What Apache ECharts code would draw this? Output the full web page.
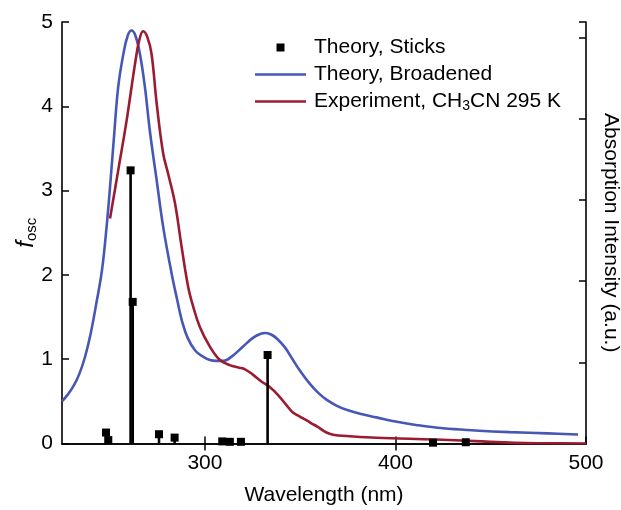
<!DOCTYPE html>
<html>
<head>
<meta charset="utf-8">
<script src="https://cdn.jsdelivr.net/npm/echarts@6/dist/echarts.min.js"></script>
<style>
html,body{margin:0;padding:0;background:#fff;}
#chart{width:621px;height:510px;}
</style>
</head>
<body>
<div id="chart"></div>
<script>
// Theory, Broadened (wavelength nm, f_osc)
const broadWl = [225,228,231,234,237,240,243,246,248.4,250.2,252.3,254.5,257.2,259.5,261.5,263.5,265.9,268.5,271.1,274.7,278.1,282.5,285.3,288,291,295,299,302.6,306,309.6,314,320,325,329,332,335,338,342,346,350,355,359.5,363.8,369,374.3,382,390,400,410.7,425,441.8,460,480,495.8];
const broadVal = [0.50,0.58,0.68,0.82,1.02,1.30,1.66,2.06,2.57,3.04,3.64,4.23,4.62,4.84,4.90,4.84,4.62,4.23,3.71,3.12,2.57,2.02,1.72,1.45,1.25,1.10,1.03,0.99,0.98,0.98,1.03,1.15,1.25,1.30,1.31,1.29,1.24,1.14,1.00,0.86,0.71,0.60,0.52,0.45,0.40,0.35,0.31,0.26,0.22,0.18,0.155,0.135,0.12,0.107];
// Experiment, CH3CN 295 K
const expWl = [250.2,254.5,258.9,263.3,265.5,267.6,269.8,272,274.7,278.1,280.7,284.3,287.8,291.2,293.9,297.4,302.6,307.9,313,318,321,325,330,334,338.4,343,346,349.8,353,355.9,359,363.8,368,374.3,390,421,441.8,462.6,480,500];
const expVal = [2.67,3.24,3.83,4.50,4.78,4.89,4.82,4.62,4.03,3.44,3.20,2.85,2.33,1.86,1.62,1.38,1.15,0.99,0.93,0.90,0.88,0.82,0.73,0.67,0.575,0.45,0.37,0.32,0.28,0.24,0.20,0.13,0.10,0.089,0.069,0.047,0.028,0.008,0.003,0.0];
// Theory, Sticks
const stickWl = [248.1,249.3,261.0,262.1,275.9,284.1,309.1,313.1,318.9,332.9,419.7,436.9];
const stickVal = [0.13,0.04,3.24,1.68,0.11,0.07,0.025,0.02,0.02,1.05,0.01,0.015];
// Axis ticks
const xTicks = [300,400,500];
const topTicks = [300,400];

const zip = (a,b) => a.map((v,i)=>[v,b[i]]);
const BLUE = '#4757b5';
const RED = '#9b1b30';
const FONT = 'Liberation Sans, Arial, Helvetica, sans-serif';
const LINE_ICON = 'path://M0,0L51,0L51,2.6L0,2.6Z';

const chart = echarts.init(document.getElementById('chart'), null, {renderer:'canvas'});
const axisLineStyle = {color:'#000', width:1.6};

chart.setOption({
  animation:false,
  backgroundColor:'#fff',
  textStyle:{fontFamily:FONT},
  grid:{left:62, right:35, top:22, bottom:66.5, containLabel:false, outerBoundsMode:'none'},
  legend:{
    orient:'vertical', left:250, top:32, itemWidth:51, itemHeight:8, itemGap:6,
    symbolKeepAspect:true,
    textStyle:{fontSize:21, color:'#000', fontFamily:FONT, padding:[0,0,0,3],
      rich:{n:{fontSize:21, color:'#000', fontFamily:FONT, lineHeight:24},
            s:{fontSize:14, color:'#000', fontFamily:FONT, lineHeight:14, verticalAlign:'bottom'}}},
    formatter: name => name === 'Experiment, CH3CN 295 K' ? '{n|Experiment, CH}{s|3}{n|CN 295 K}' : name,
    data:[
      {name:'Theory, Sticks', icon:'path://M0,0L1,0L1,1L0,1Z', itemStyle:{color:'#000'}},
      {name:'Theory, Broadened', icon:LINE_ICON, itemStyle:{color:BLUE}},
      {name:'Experiment, CH3CN 295 K', icon:LINE_ICON, itemStyle:{color:RED}}
    ]
  },
  xAxis:[
    {type:'value', min:225, max:500, position:'bottom',
     name:'Wavelength (nm)', nameLocation:'middle', nameGap:41,
     nameTextStyle:{fontSize:21, color:'#000', fontFamily:FONT},
     axisLine:{show:true, lineStyle:axisLineStyle},
     axisTick:{show:true, inside:true, length:7, customValues:xTicks, lineStyle:{color:'#000', width:1.5}},
     axisLabel:{show:true, customValues:xTicks, fontSize:21, color:'#000', margin:9, fontFamily:FONT},
     splitLine:{show:false}},
    {type:'value', min:225, max:500, position:'top',
     axisLine:{show:true, lineStyle:axisLineStyle},
     axisTick:{show:true, inside:true, length:7, customValues:topTicks, lineStyle:{color:'#000', width:1.5}},
     axisLabel:{show:false}, splitLine:{show:false}}
  ],
  yAxis:[
    {type:'value', min:0, max:5, interval:1, position:'left',
     name:'{f|f}{s|osc}', nameLocation:'middle', nameGap:23, nameRotate:90, nameMoveOverlap:false,
     nameTextStyle:{rich:{
       f:{fontSize:24, fontStyle:'italic', color:'#000', fontFamily:FONT, lineHeight:26},
       s:{fontSize:15, color:'#000', fontFamily:FONT, lineHeight:15, verticalAlign:'bottom'}}},
     axisLine:{show:true, lineStyle:axisLineStyle},
     axisTick:{show:true, inside:true, length:7, lineStyle:{color:'#000', width:1.5}},
     axisLabel:{fontSize:21, color:'#000', margin:9, fontFamily:FONT},
     splitLine:{show:false}},
    {type:'value', min:0, max:5.19, interval:1, position:'right',
     name:'Absorption Intensity (a.u.)', nameLocation:'middle', nameGap:14, nameRotate:-90,
     nameTextStyle:{fontSize:21, color:'#000', fontFamily:FONT},
     axisLine:{show:true, lineStyle:axisLineStyle},
     axisTick:{show:true, inside:true, length:7, lineStyle:{color:'#000', width:1.5}},
     axisLabel:{show:false}, splitLine:{show:false}}
  ],
  series:[
    {name:'Theory, Sticks', type:'custom', xAxisIndex:0, yAxisIndex:0,
     data: zip(stickWl, stickVal), encode:{x:0, y:1}, z:5,
     itemStyle:{color:'#000'},
     renderItem:(params, api) => {
       const x = api.value(0), v = api.value(1);
       const p0 = api.coord([x, 0]);
       const p1 = api.coord([x, v]);
       return {type:'group', children:[
         {type:'line', shape:{x1:p0[0], y1:p0[1], x2:p1[0], y2:p1[1]}, style:{stroke:'#000', lineWidth:2.6}},
         {type:'rect', shape:{x:p1[0]-4, y:p1[1]-4, width:8, height:8}, style:{fill:'#000'}}
       ]};
     }},
    {name:'Theory, Broadened', type:'line', xAxisIndex:0, yAxisIndex:0,
     data: zip(broadWl, broadVal), showSymbol:false, symbol:'none', smooth:0.4,
     lineStyle:{color:BLUE, width:2.6}, itemStyle:{color:BLUE}, z:3},
    {name:'Experiment, CH3CN 295 K', type:'line', xAxisIndex:0, yAxisIndex:0,
     data: zip(expWl, expVal), showSymbol:false, symbol:'none', smooth:0.4,
     lineStyle:{color:RED, width:2.6}, itemStyle:{color:RED}, z:4}
  ]
});
</script>
</body>
</html>
